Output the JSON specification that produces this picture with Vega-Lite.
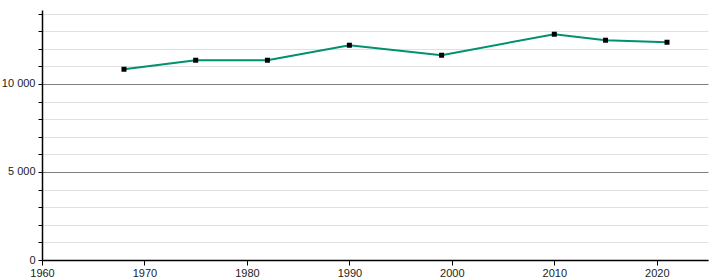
{
  "$schema": "https://vega.github.io/schema/vega-lite/v6.json",
  "width": 666,
  "height": 250,
  "padding": {"left": 42, "top": 10, "right": 12, "bottom": 20},
  "autosize": {"type": "none"},
  "background": "white",
  "config": {"view": {"stroke": null}, "font": "Liberation Sans"},
  "data": {"values": [
    {"year": 1968, "pop": 10835},
    {"year": 1975, "pop": 11347},
    {"year": 1982, "pop": 11347},
    {"year": 1990, "pop": 12199},
    {"year": 1999, "pop": 11631},
    {"year": 2010, "pop": 12824},
    {"year": 2015, "pop": 12483},
    {"year": 2021, "pop": 12369}
  ]},
  "encoding": {
    "x": {"field": "year", "type": "quantitative",
      "scale": {"domain": [1960, 2025], "nice": false, "zero": false},
      "axis": {"title": null, "values": [1960, 1970, 1980, 1990, 2000, 2010, 2020], "format": "d",
        "grid": false, "domainColor": "black", "domainWidth": 1.5, "tickColor": "black", "tickSize": 5,
        "labelFontSize": 11, "labelColor": "#222", "labelPadding": 2, "labelFlush": false}},
    "y": {"field": "pop", "type": "quantitative",
      "scale": {"domain": [0, 14200], "nice": false},
      "axis": {"title": null, "values": [0,1000,2000,3000,4000,5000,6000,7000,8000,9000,10000,11000,12000,13000,14000],
        "labelExpr": "datum.value % 5000 === 0 ? replace(format(datum.value, ',d'), ',', ' ') : ''",
        "grid": true,
        "gridColor": {"condition": {"test": "datum.value % 5000 === 0", "value": "#808080"}, "value": "#e0e0e0"},
        "gridWidth": 1,
        "domainColor": "black", "domainWidth": 1.5, "tickColor": "black", "tickSize": 4,
        "labelFontSize": 11, "labelColor": "#222", "labelPadding": 3}}
  },
  "layer": [
    {"mark": {"type": "line", "color": "#00916e", "strokeWidth": 2}},
    {"mark": {"type": "square", "color": "black", "size": 25, "opacity": 1, "filled": true}}
  ]
}
